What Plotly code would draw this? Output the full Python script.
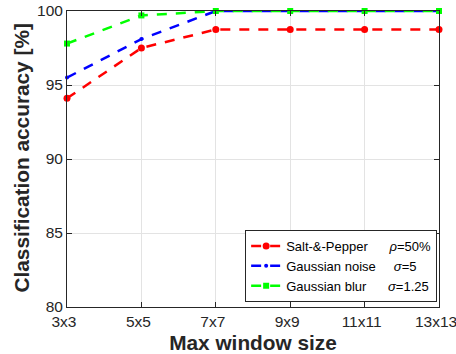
import plotly.graph_objects as go

categories = ["3x3", "5x5", "7x7", "9x9", "11x11", "13x13"]
salt_pepper = [94.1, 97.5, 98.75, 98.75, 98.75, 98.75]
gauss_noise = [95.5, 98.1, 100.0, 100.0, 100.0, 100.0]
gauss_blur = [97.8, 99.7, 100.0, 100.0, 100.0, 100.0]
y_ticks = [80, 85, 90, 95, 100]

S = "\u00a0"
series = [
    ("Salt-&-Pepper" + S * 6 + "<i>ρ</i>=50%", salt_pepper, "#ff0000", "circle", 7),
    ("Gaussian noise" + S * 5 + "<i>σ</i>=5", gauss_noise, "#0000ff", "circle", 4),
    ("Gaussian blur" + S * 6 + "<i>σ</i>=1.25", gauss_blur, "#00ff00", "square", 6),
]

fig = go.Figure()
for name, vals, col, sym, ms in series:
    fig.add_trace(go.Scatter(
        x=list(range(len(categories))), y=vals, name=name, mode="lines+markers",
        line=dict(color=col, width=2.5, dash="10px,9px"),
        marker=dict(color=col, symbol=sym, size=ms),
        cliponaxis=False,
    ))

fig.update_layout(
    width=456, height=354,
    margin=dict(l=67, r=17, t=11, b=47),
    paper_bgcolor="white", plot_bgcolor="white",
    font=dict(family="Liberation Sans, Arial, sans-serif", size=15.5, color="#262626"),
    showlegend=True,
    legend=dict(x=0.995, y=0.017, xanchor="right", yanchor="bottom",
                bordercolor="#262626", borderwidth=1, bgcolor="white",
                font=dict(size=13, color="#000"), tracegroupgap=0,
                itemwidth=30),
    annotations=[dict(
        text="<b>Classification accuracy [%]</b>", xref="paper", yref="paper",
        x=-0.121, y=0.505, xanchor="center", yanchor="middle", textangle=-90,
        showarrow=False, font=dict(size=20.8, color="#262626"),
    )],
)
fig.update_xaxes(
    range=[0, 5], tickvals=list(range(len(categories))), ticktext=categories,
    showgrid=True, gridcolor="#e3e3e3", gridwidth=1,
    showline=True, linecolor="#262626", linewidth=1, mirror="ticks",
    ticks="inside", ticklen=5, tickcolor="#262626",
    zeroline=False, automargin=False, ticklabeloverflow="allow",
    ticklabelshift=-3,
    title=dict(text="<b>Max window size</b>", font=dict(size=20.8, color="#262626")),
)
fig.update_yaxes(
    range=[80, 100], tickvals=y_ticks,
    showgrid=True, gridcolor="#e3e3e3", gridwidth=1,
    showline=True, linecolor="#262626", linewidth=1, mirror="ticks",
    ticks="inside", ticklen=5, tickcolor="#262626",
    zeroline=False, automargin=False, ticklabeloverflow="allow",
)

fig.write_html("out.html", config={"displayModeBar": False},
               post_script="document.body.style.margin='0';")
